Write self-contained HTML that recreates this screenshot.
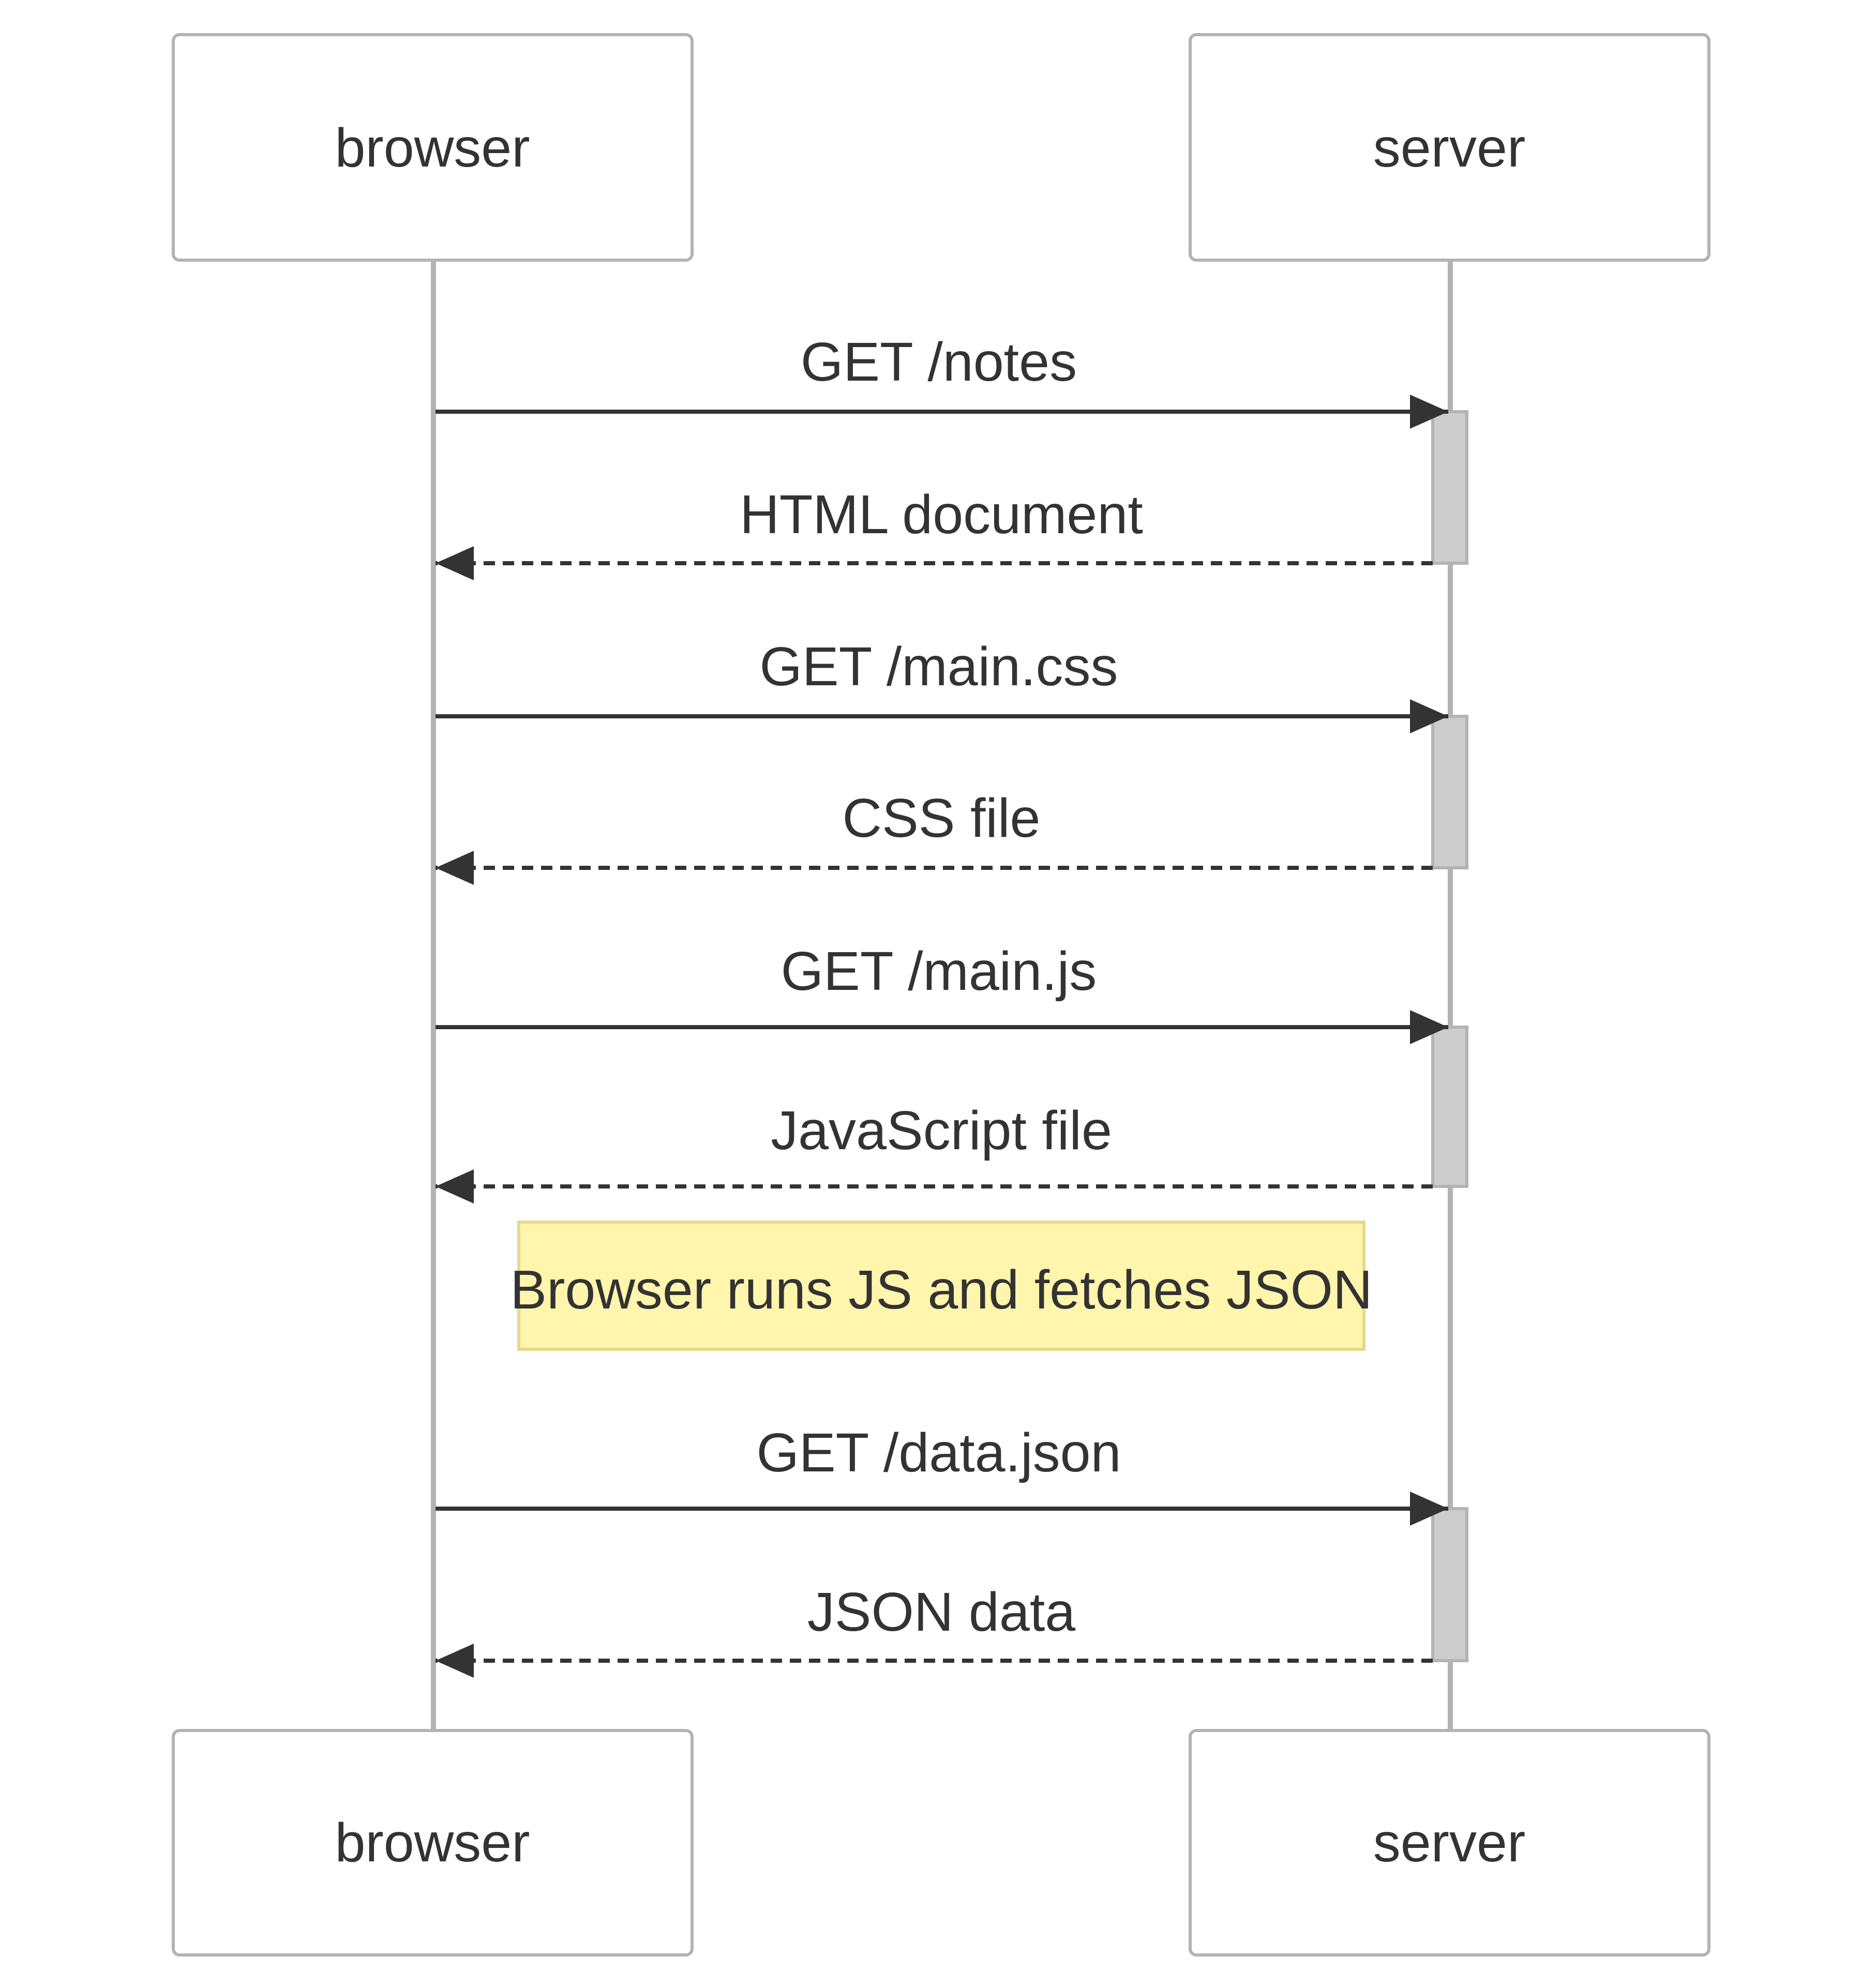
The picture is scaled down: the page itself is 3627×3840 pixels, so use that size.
<!DOCTYPE html>
<html><head><meta charset="utf-8"><style>
html,body{margin:0;padding:0;background:#fff;}
svg{display:block;}
text{font-family:"Liberation Sans",Arial,sans-serif;fill:#333;font-size:106px;text-anchor:middle;dominant-baseline:central;}
</style></head><body>
<svg width="3627" height="3840" viewBox="0 0 3627 3840" xmlns="http://www.w3.org/2000/svg">
<defs>
<marker id="ah" markerUnits="userSpaceOnUse" markerWidth="80" markerHeight="70" refX="74" refY="33" orient="auto">
<path d="M0,0 L74,33 L0,66 Z" fill="#333"/>
</marker>
</defs>
<line x1="838" y1="503" x2="838" y2="3346" stroke="#b3b3b3" stroke-width="10"/>
<line x1="2804" y1="503" x2="2804" y2="3346" stroke="#b3b3b3" stroke-width="10"/>
<rect x="335" y="67" width="1003" height="436" rx="12" fill="#fff" stroke="#b3b3b3" stroke-width="6"/>
<rect x="2301" y="67" width="1003" height="436" rx="12" fill="#fff" stroke="#b3b3b3" stroke-width="6"/>
<rect x="335" y="3346" width="1003" height="434" rx="12" fill="#fff" stroke="#b3b3b3" stroke-width="6"/>
<rect x="2301" y="3346" width="1003" height="434" rx="12" fill="#fff" stroke="#b3b3b3" stroke-width="6"/>
<text x="836" y="286">browser</text>
<text x="2802" y="286">server</text>
<text x="836" y="3563">browser</text>
<text x="2802" y="3563">server</text>
<g fill="#cccccc" stroke="#b3b3b3" stroke-width="6">
<rect x="2770" y="796" width="66" height="293"/>
<rect x="2770" y="1385" width="66" height="293"/>
<rect x="2770" y="1986" width="66" height="308"/>
<rect x="2770" y="2917" width="66" height="294"/>
</g>
<rect x="1003" y="2363" width="1634" height="246" fill="#fff5ad" stroke="#e6d98c" stroke-width="6"/>
<text x="1820" y="2494">Browser runs JS and fetches JSON</text>
<g stroke="#333" stroke-width="8" marker-end="url(#ah)">
<line x1="842" y1="796" x2="2800" y2="796"/>
<line x1="2770" y1="1089" x2="842" y2="1089" stroke-dasharray="22 15"/>
<line x1="842" y1="1385" x2="2800" y2="1385"/>
<line x1="2770" y1="1678" x2="842" y2="1678" stroke-dasharray="22 15"/>
<line x1="842" y1="1986" x2="2800" y2="1986"/>
<line x1="2770" y1="2294" x2="842" y2="2294" stroke-dasharray="22 15"/>
<line x1="842" y1="2917" x2="2800" y2="2917"/>
<line x1="2770" y1="3211" x2="842" y2="3211" stroke-dasharray="22 15"/>
</g>
<text x="1815" y="700">GET /notes</text>
<text x="1820" y="995">HTML document</text>
<text x="1815" y="1289">GET /main.css</text>
<text x="1820" y="1582">CSS file</text>
<text x="1815" y="1878">GET /main.js</text>
<text x="1820" y="2186">JavaScript file</text>
<text x="1815" y="2809">GET /data.json</text>
<text x="1820" y="3117">JSON data</text>
</svg>
</body></html>
